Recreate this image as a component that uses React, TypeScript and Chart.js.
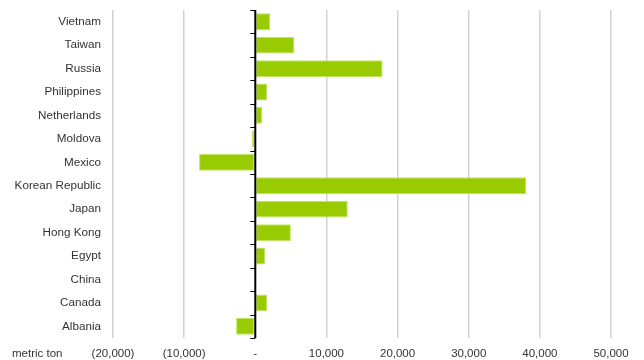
import React, { useEffect, useRef } from "react";
import { Chart, registerables } from "chart.js";

Chart.register(...registerables);

const countries = [
  "Vietnam",
  "Taiwan",
  "Russia",
  "Philippines",
  "Netherlands",
  "Moldova",
  "Mexico",
  "Korean Republic",
  "Japan",
  "Hong Kong",
  "Egypt",
  "China",
  "Canada",
  "Albania",
];
const volumes = [2100, 5500, 17900, 1700, 1000, -500, -7900, 38100, 13000, 5000, 1400, -100, 1700, -2700];
const axisMin = -20000;
const axisMax = 50000;
const axisStep = 10000;
const unitLabel = "metric ton";

const fontFamily = "'Liberation Sans', Arial, sans-serif";

const fmt = (v: number) => {
  if (v === 0) return "-";
  const s = Math.abs(v).toLocaleString("en-US");
  return v < 0 ? `(${s})` : s;
};

const zeroAxisPlugin = {
  id: "zeroAxis",
  afterDatasetsDraw(chart: any) {
    const { ctx, chartArea, scales } = chart;
    const x0 = scales.x.getPixelForValue(0);
    const n = countries.length;
    const step = (chartArea.bottom - chartArea.top) / n;
    ctx.save();
    ctx.strokeStyle = "#000";
    ctx.lineWidth = 2;
    ctx.beginPath();
    ctx.moveTo(x0, chartArea.top);
    ctx.lineTo(x0, chartArea.bottom);
    ctx.stroke();
    ctx.lineWidth = 1;
    for (let i = 0; i <= n; i++) {
      const y = Math.round(chartArea.top + i * step) + 0.5;
      ctx.beginPath();
      ctx.moveTo(x0 - 5, y);
      ctx.lineTo(x0, y);
      ctx.stroke();
    }
    ctx.restore();
  },
  afterDraw(chart: any) {
    const { ctx, chartArea } = chart;
    ctx.save();
    ctx.fillStyle = "#333";
    ctx.font = `11.5px ${fontFamily}`;
    ctx.textAlign = "left";
    ctx.textBaseline = "middle";
    ctx.fillText(unitLabel, 12, chartArea.bottom + 16);
    ctx.restore();
  },
};

export default function App() {
  const ref = useRef<HTMLCanvasElement | null>(null);
  useEffect(() => {
    document.body.style.margin = "0";
    if (!ref.current) return;
    const chart = new Chart(ref.current, {
      type: "bar",
      data: {
        labels: countries,
        datasets: [
          {
            data: volumes,
            backgroundColor: "#99cc00",
            borderColor: "#c2e266",
            borderWidth: 1,
            borderSkipped: false,
            barPercentage: 0.72,
            categoryPercentage: 1,
          },
        ],
      },
      plugins: [zeroAxisPlugin],
      options: {
        indexAxis: "y",
        animation: false,
        responsive: false,
        maintainAspectRatio: false,
        layout: { padding: { left: 0, right: 33, top: 10, bottom: 0 } },
        plugins: { legend: { display: false }, tooltip: { enabled: false } },
        scales: {
          x: {
            min: axisMin,
            max: axisMax,
            border: { display: false },
            grid: {
              drawTicks: false,
              lineWidth: 1.5,
              color: (c: any) => (c.tick && c.tick.value === 0 ? "rgba(0,0,0,0)" : "#d2d2d2"),
            },
            ticks: {
              stepSize: axisStep,
              padding: 9,
              color: "#333",
              font: { family: fontFamily, size: 11.5 },
              callback: (v: any) => fmt(Number(v)),
              maxRotation: 0,
            },
            afterFit: (s: any) => {
              s.height = 22;
              s.paddingLeft = 0;
              s.paddingRight = 0;
            },
          },
          y: {
            border: { display: false },
            grid: { display: false, drawTicks: false },
            ticks: {
              padding: 12,
              color: "#333",
              font: { family: fontFamily, size: 11.7 },
            },
            afterFit: (s: any) => {
              s.width = 113;
              s.paddingTop = 0;
              s.paddingBottom = 0;
            },
          },
        },
      },
    });
    return () => chart.destroy();
  }, []);
  return (
    <div style={{ width: 644, height: 360 }}>
      <canvas ref={ref} width={644} height={360} style={{ width: 644, height: 360 }} />
    </div>
  );
}
